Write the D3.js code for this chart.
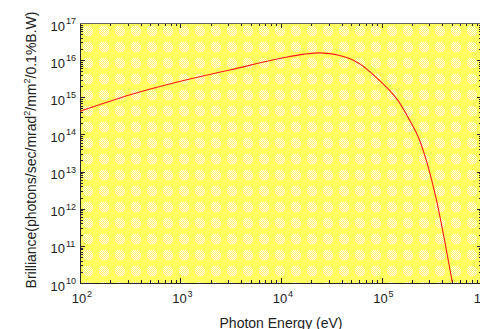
<!DOCTYPE html>
<html>
<head>
<meta charset="utf-8">
<script src="https://cdn.jsdelivr.net/npm/d3@7"></script>
<style>
  body { margin: 0; background: #fff; }
  svg { display: block; font-family: "Liberation Sans", Arial, sans-serif; }
</style>
</head>
<body>
<svg id="chart" width="480" height="329" shape-rendering="crispEdges"></svg>
<script>
// photon energy (eV) and brilliance
const energy = [100, 316, 1000, 3162, 10000, 17000, 24150, 30400, 38300, 48000, 60400, 75900, 95300, 119700, 150600, 189300, 237800, 290000, 350800, 440700, 505600];
const brilliance = [4.2e14, 1.17e15, 2.7e15, 5.5e15, 1.12e16, 1.45e16, 1.57e16, 1.5e16, 1.34e16, 1.1e16, 8.0e15, 5.0e15, 2.85e15, 1.55e15, 7.2e14, 2.5e14, 7.3e13, 1.4e13, 1.8e12, 8.1e10, 1.07e10];

const xTicks = [1e2, 1e3, 1e4, 1e5, 1e6];
const yTicks = [1e10, 1e11, 1e12, 1e13, 1e14, 1e15, 1e16, 1e17];

const margin = { left: 80, top: 23, right: 482, bottom: 283 };

const svg = d3.select('#chart');

const x = d3.scaleLog().domain([1e2, 1e6]).range([margin.left, margin.right]);
const y = d3.scaleLog().domain([1e10, 1e17]).range([margin.bottom, margin.top]);

// dithered yellow background pattern
const defs = svg.append('defs');
const pat = defs.append('pattern')
  .attr('id', 'dots')
  .attr('patternUnits', 'userSpaceOnUse')
  .attr('x', margin.left)
  .attr('y', margin.top)
  .attr('width', 16)
  .attr('height', 16);
pat.append('rect').attr('width', 16).attr('height', 16).attr('fill', '#ffff60');
const px = [];
for (let i = 0; i < 16; i++) {
  for (let j = 0; j < 16; j++) {
    const r = Math.hypot(i - 7.5, j - 7.5);
    if (r < 5.2 && (i + j) % 2 === 0) px.push([i, j]);
  }
}
pat.selectAll('rect.px')
  .data(px)
  .join('rect')
  .attr('class', 'px')
  .attr('x', (d) => d[0])
  .attr('y', (d) => d[1])
  .attr('width', 1)
  .attr('height', 1)
  .attr('fill', '#ffffff');

svg.append('rect')
  .attr('x', margin.left)
  .attr('y', margin.top)
  .attr('width', margin.right - margin.left)
  .attr('height', margin.bottom - margin.top)
  .attr('fill', 'url(#dots)');

// minor tick values
const xMinor = [];
for (let e = 2; e < 6; e++) for (let k = 2; k < 10; k++) xMinor.push(k * Math.pow(10, e));
const yMinor = [];
for (let e = 10; e < 17; e++) for (let k = 2; k < 10; k++) yMinor.push(k * Math.pow(10, e));

const tickColor = '#262626';
const ticks = svg.append('g').attr('stroke', tickColor).attr('stroke-width', 1);

// bottom and top ticks (inward)
[[margin.bottom, -1], [margin.top, 1]].forEach(([yy, dir]) => {
  ticks.selectAll(null).data(xTicks).join('line')
    .attr('x1', (d) => Math.round(x(d)) + 0.5).attr('x2', (d) => Math.round(x(d)) + 0.5)
    .attr('y1', yy).attr('y2', yy + dir * 5);
  ticks.selectAll(null).data(xMinor).join('line')
    .attr('x1', (d) => Math.round(x(d)) + 0.5).attr('x2', (d) => Math.round(x(d)) + 0.5)
    .attr('y1', yy).attr('y2', yy + dir * 3);
});
// left and right ticks
[[margin.left, 1], [margin.right, -1]].forEach(([xx, dir]) => {
  ticks.selectAll(null).data(yTicks).join('line')
    .attr('y1', (d) => Math.round(y(d)) + 0.5).attr('y2', (d) => Math.round(y(d)) + 0.5)
    .attr('x1', xx).attr('x2', xx + dir * 5);
  ticks.selectAll(null).data(yMinor).join('line')
    .attr('y1', (d) => Math.round(y(d)) + 0.5).attr('y2', (d) => Math.round(y(d)) + 0.5)
    .attr('x1', xx).attr('x2', xx + dir * 3);
});

// axis frame
svg.append('path')
  .attr('d', `M${margin.left + 0.5},${margin.top} V${margin.bottom + 0.5} H${margin.right}`)
  .attr('fill', 'none')
  .attr('stroke', tickColor);
svg.append('path')
  .attr('d', `M${margin.left},${margin.top + 0.5} H${margin.right}`)
  .attr('fill', 'none')
  .attr('stroke', '#666');

// curve
const line = d3.line()
  .x((d, i) => x(energy[i]))
  .y((d) => y(d))
  .curve(d3.curveMonotoneX);

svg.append('path')
  .datum(brilliance)
  .attr('d', line)
  .attr('fill', 'none')
  .attr('stroke', '#ff1a1a')
  .attr('stroke-width', 1.1)
  .attr('shape-rendering', 'auto');

// tick labels
const expo = (v) => Math.round(Math.log10(v));
const xl = svg.append('g').attr('fill', '#222').attr('font-size', 13);
xl.selectAll('text.base').data(xTicks).join('text')
  .attr('class', 'base')
  .attr('x', (d) => x(d) - 1)
  .attr('y', 303)
  .attr('text-anchor', 'middle')
  .text('10');
xl.selectAll('text.sup').data(xTicks).join('text')
  .attr('class', 'sup')
  .attr('x', (d) => x(d) + 7)
  .attr('y', 297)
  .attr('font-size', 9)
  .text((d) => expo(d));

const yl = svg.append('g').attr('fill', '#222').attr('font-size', 13);
yl.selectAll('text.base').data(yTicks).join('text')
  .attr('class', 'base')
  .attr('x', 65)
  .attr('y', (d) => y(d) + 7.5)
  .attr('text-anchor', 'end')
  .text('10');
yl.selectAll('text.sup').data(yTicks).join('text')
  .attr('class', 'sup')
  .attr('x', 66)
  .attr('y', (d) => y(d) + 1)
  .attr('font-size', 9)
  .text((d) => expo(d));

// axis titles
svg.append('text')
  .attr('x', (margin.left + margin.right) / 2)
  .attr('y', 328)
  .attr('text-anchor', 'middle')
  .attr('font-size', 14)
  .attr('fill', '#222')
  .text('Photon Energy (eV)');

const yt = svg.append('text')
  .attr('transform', `translate(36,${(margin.top + margin.bottom) / 2 - 3}) rotate(-90)`)
  .attr('text-anchor', 'middle')
  .attr('font-size', 14)
  .attr('fill', '#222');
yt.append('tspan').text('Brilliance(photons/sec/mrad');
yt.append('tspan').attr('dy', -6).attr('font-size', 9).text('2');
yt.append('tspan').attr('dy', 6).text('/mm');
yt.append('tspan').attr('dy', -6).attr('font-size', 9).text('2');
yt.append('tspan').attr('dy', 6).text('/0.1%B.W)');
</script>
</body>
</html>
